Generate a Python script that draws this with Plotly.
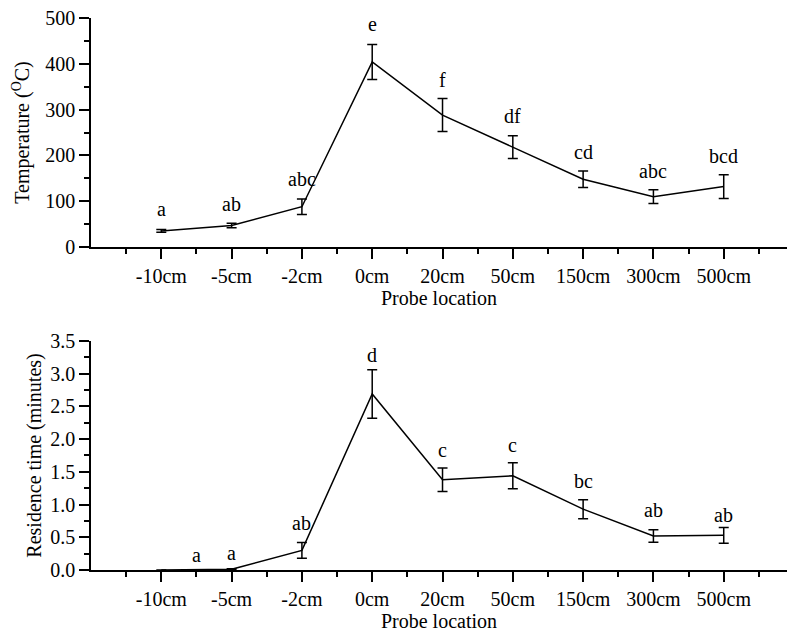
import plotly.graph_objects as go

categories = ["-10cm", "-5cm", "-2cm", "0cm", "20cm", "50cm", "150cm", "300cm", "500cm"]
positions = list(range(len(categories)))

temp_mean = [35, 47, 88, 404, 288, 218, 148, 110, 132]
temp_err = [3, 5, 17, 38, 36, 25, 18, 15, 26]
temp_labels = ["a", "ab", "abc", "e", "f", "df", "cd", "abc", "bcd"]
temp_label_x = [0, 1, 2, 3, 4, 5, 6, 7, 8]
temp_label_y = [76, 88, 143, 480, 359, 279, 201, 159, 192]

res_mean = [0.0, 0.01, 0.30, 2.69, 1.38, 1.44, 0.93, 0.52, 0.53]
res_err = [0.0, 0.01, 0.12, 0.37, 0.18, 0.20, 0.145, 0.095, 0.12]
res_labels = ["a", "a", "ab", "d", "c", "c", "bc", "ab", "ab"]
res_label_x = [0.5, 1, 2, 3, 4, 5, 6, 7, 8]
res_label_y = [0.18, 0.22, 0.68, 3.24, 1.79, 1.86, 1.31, 0.87, 0.79]

FONT = "Liberation Serif"
FS = 20

fig = go.Figure()
fig.add_trace(go.Scatter(
    x=positions, y=temp_mean, mode="lines",
    line=dict(color="black", width=1.5),
    error_y=dict(type="data", array=temp_err, visible=True, color="black", thickness=1.5, width=5),
    xaxis="x", yaxis="y", showlegend=False))
fig.add_trace(go.Scatter(
    x=positions, y=res_mean, mode="lines",
    line=dict(color="black", width=1.5),
    error_y=dict(type="data", array=res_err, visible=True, color="black", thickness=1.5, width=5),
    xaxis="x2", yaxis="y2", showlegend=False))

annotations = []
for lx, ly, t in zip(temp_label_x, temp_label_y, temp_labels):
    annotations.append(dict(x=lx, y=ly, xref="x", yref="y", text=t, showarrow=False, yshift=3,
                            font=dict(family=FONT, size=FS, color="black"), yanchor="middle"))
for lx, ly, t in zip(res_label_x, res_label_y, res_labels):
    annotations.append(dict(x=lx, y=ly, xref="x2", yref="y2", text=t, showarrow=False, yshift=3,
                            font=dict(family=FONT, size=FS, color="black"), yanchor="middle"))

# major tick at the left end of each x axis (where it meets the y axis)
shapes = []
for xr, yr in (("x", "y"), ("x2", "y2")):
    shapes.append(dict(type="line", xref=xr, yref=yr, x0=-1, x1=-1,
                       ysizemode="pixel", yanchor=0, y0=0, y1=-10,
                       line=dict(color="black", width=1.5)))

tickfont = dict(family=FONT, size=FS, color="black")
xcommon = dict(
    range=[-1, 8.9], showgrid=False, zeroline=False, showline=True, linecolor="black", linewidth=1.5,
    tickmode="array", tickvals=positions, ticktext=categories,
    ticks="outside", ticklen=10, tickwidth=1.5, tickcolor="black", tickfont=tickfont,
    minor=dict(tick0=-0.5, dtick=1, ticks="outside", ticklen=5, tickwidth=1.5, tickcolor="black"),
    title=dict(text="Probe location", font=tickfont, standoff=3),
)
ycommon = dict(
    showgrid=False, zeroline=False, showline=True, linecolor="black", linewidth=1.5,
    ticks="outside", ticklen=10, tickwidth=1.5, tickcolor="black", tickfont=tickfont,
)

fig.update_layout(
    width=787, height=635,
    margin=dict(l=91, r=0, t=18, b=65),
    paper_bgcolor="white", plot_bgcolor="white",
    font=dict(family=FONT, size=FS, color="black"),
    xaxis=dict(domain=[0, 1], anchor="y", **xcommon),
    yaxis=dict(domain=[0.5851, 1], anchor="x", range=[0, 500], tickmode="linear", tick0=0, dtick=100,
               minor=dict(dtick=50, ticks="outside", ticklen=5, tickwidth=1.5, tickcolor="black"),
               title=dict(text="Temperature (<sup>O</sup>C)", font=tickfont, standoff=10), **ycommon),
    xaxis2=dict(domain=[0, 1], anchor="y2", **xcommon),
    yaxis2=dict(domain=[0, 0.4149], anchor="x2", range=[0, 3.5], tickmode="linear", tick0=0, dtick=0.5,
                tickformat=".1f",
                minor=dict(dtick=0.25, ticks="outside", ticklen=5, tickwidth=1.5, tickcolor="black"),
                title=dict(text="Residence time (minutes)", font=tickfont, standoff=3), **ycommon),
    annotations=annotations,
    shapes=shapes,
)

fig.write_html("out.html")
